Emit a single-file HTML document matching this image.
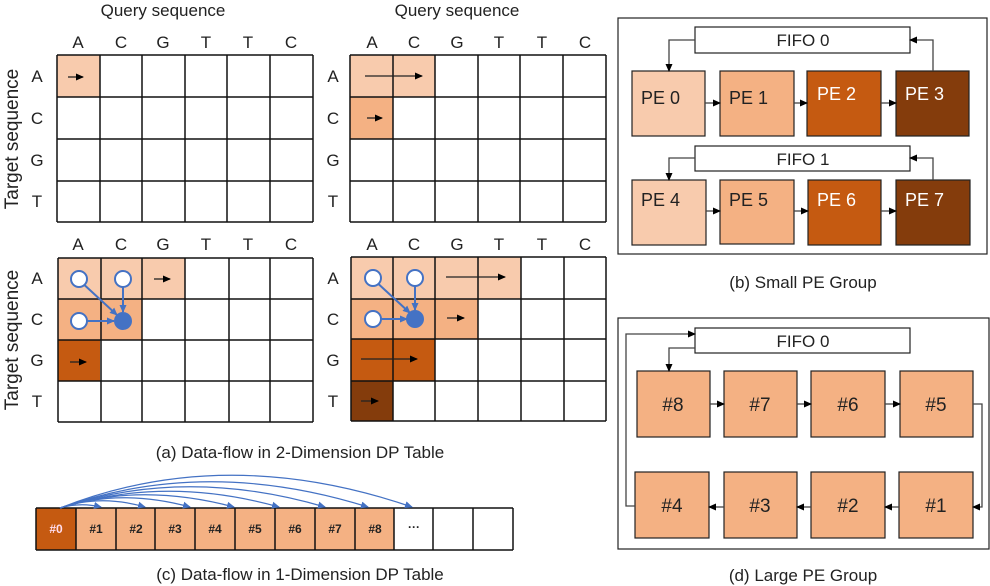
<!DOCTYPE html>
<html><head><meta charset="utf-8"><style>
html,body{margin:0;padding:0;background:#fff}
svg{display:block}
text{font-family:"Liberation Sans",sans-serif}
</style></head><body>
<svg width="990" height="586" viewBox="0 0 990 586" xmlns="http://www.w3.org/2000/svg">
<defs>
<marker id="ar" markerWidth="8" markerHeight="8" refX="7" refY="4" orient="auto" markerUnits="userSpaceOnUse"><path d="M0,0.5 L8,4 L0,7.5 z" fill="#000"/></marker>
<marker id="ab" markerWidth="8" markerHeight="8" refX="7" refY="4" orient="auto" markerUnits="userSpaceOnUse"><path d="M0,0.5 L8,4 L0,7.5 z" fill="#4472c4"/></marker>
<marker id="ag" markerWidth="8" markerHeight="8" refX="7" refY="4" orient="auto" markerUnits="userSpaceOnUse"><path d="M0,0.5 L8,4 L0,7.5 z" fill="#000"/></marker>
</defs>

<g font-size="17" fill="#222" text-anchor="middle">
<text x="163" y="16">Query sequence</text>
<text x="457" y="16">Query sequence</text>
</g>
<g font-size="17" fill="#222" text-anchor="middle">
<text x="78" y="48">A</text><text x="121" y="48">C</text><text x="163" y="48">G</text><text x="206" y="48">T</text><text x="248" y="48">T</text><text x="291" y="48">C</text>
<text x="372" y="48">A</text><text x="414" y="48">C</text><text x="457" y="48">G</text><text x="499" y="48">T</text><text x="542" y="48">T</text><text x="585" y="48">C</text>
<text x="78" y="250">A</text><text x="121" y="250">C</text><text x="163" y="250">G</text><text x="206" y="250">T</text><text x="248" y="250">T</text><text x="291" y="250">C</text>
<text x="372" y="250">A</text><text x="414" y="250">C</text><text x="457" y="250">G</text><text x="499" y="250">T</text><text x="542" y="250">T</text><text x="585" y="250">C</text>
</g>
<g font-size="17" fill="#222" text-anchor="middle">
<text x="37" y="82">A</text><text x="37" y="124">C</text><text x="37" y="166">G</text><text x="37" y="207">T</text>
<text x="333" y="82">A</text><text x="333" y="124">C</text><text x="333" y="166">G</text><text x="333" y="207">T</text>
<text x="37" y="284">A</text><text x="37" y="325">C</text><text x="37" y="366">G</text><text x="37" y="407">T</text>
<text x="333" y="284">A</text><text x="333" y="325">C</text><text x="333" y="366">G</text><text x="333" y="407">T</text>
</g>
<g font-size="19" fill="#222" text-anchor="middle">
<text transform="translate(18,139) rotate(-90)">Target sequence</text>
<text transform="translate(18,340) rotate(-90)">Target sequence</text>
</g>

<rect x="57" y="55" width="43" height="42" fill="#f8cbad"/>
<rect x="350" y="55" width="85" height="42" fill="#f8cbad"/>
<rect x="350" y="97" width="43" height="42" fill="#f4b183"/>
<rect x="58" y="258" width="127" height="41" fill="#f8cbad"/>
<rect x="58" y="299" width="84" height="41" fill="#f4b183"/>
<rect x="58" y="340" width="42" height="41" fill="#c55a11"/>
<rect x="351" y="257" width="170" height="42" fill="#f8cbad"/>
<rect x="351" y="299" width="127" height="40" fill="#f4b183"/>
<rect x="351" y="339" width="84" height="42" fill="#c55a11"/>
<rect x="351" y="381" width="42" height="40" fill="#843c0c"/>

<g stroke="#111" stroke-width="1.5" fill="none">
<path d="M57,55H313M57,97H313M57,139H313M57,181H313M57,222H313M57,55V222M100,55V222M142,55V222M185,55V222M227,55V222M270,55V222M313,55V222"/>
<path d="M350,55H606M350,97H606M350,139H606M350,181H606M350,222H606M350,55V222M393,55V222M435,55V222M478,55V222M520,55V222M563,55V222M606,55V222"/>
<path d="M58,258H313M58,299H313M58,340H313M58,381H313M58,422H313M58,258V422M101,258V422M142,258V422M185,258V422M229,258V422M270,258V422M313,258V422"/>
<path d="M351,257H606M351,299H606M351,339H606M351,381H606M351,421H606M351,257V421M393,257V421M435,257V421M478,257V421M521,257V421M564,257V421M606,257V421"/>
</g>

<g stroke="#222" stroke-width="1.3" marker-end="url(#ar)">
<line x1="68" y1="77" x2="83" y2="77"/>
<line x1="365" y1="76" x2="422" y2="76"/>
<line x1="367" y1="118" x2="382" y2="118"/>
<line x1="154" y1="279" x2="170" y2="279"/>
<line x1="70" y1="362" x2="86" y2="362"/>
<line x1="446" y1="277" x2="505" y2="277"/>
<line x1="447" y1="318" x2="464" y2="318"/>
<line x1="361" y1="359" x2="417" y2="359"/>
<line x1="361" y1="401" x2="378" y2="401"/>
</g>

<g stroke="#4472c4" stroke-width="2">
<line x1="79" y1="280" x2="117" y2="315" marker-end="url(#ab)"/>
<line x1="123" y1="280" x2="123" y2="312" marker-end="url(#ab)"/>
<line x1="79" y1="321" x2="114" y2="321" marker-end="url(#ab)"/>
<circle cx="79" cy="279" r="8" fill="#fff"/><circle cx="123" cy="279" r="8" fill="#fff"/><circle cx="79" cy="321" r="8" fill="#fff"/><circle cx="123" cy="321" r="8" fill="#4472c4"/>
<line x1="373" y1="279" x2="410" y2="313" marker-end="url(#ab)"/>
<line x1="415" y1="279" x2="415" y2="310" marker-end="url(#ab)"/>
<line x1="373" y1="319" x2="407" y2="319" marker-end="url(#ab)"/>
<circle cx="373" cy="278" r="8" fill="#fff"/><circle cx="415" cy="278" r="8" fill="#fff"/><circle cx="373" cy="319" r="8" fill="#fff"/><circle cx="415" cy="319" r="8" fill="#4472c4"/>
</g>

<text x="300" y="458" font-size="17" fill="#222" text-anchor="middle">(a) Data-flow in 2-Dimension DP Table</text>

<rect x="36" y="508" width="40" height="42" fill="#c55a11"/>
<rect x="76" y="508" width="318" height="42" fill="#f4b183"/>
<g stroke="#111" stroke-width="1.5" fill="none">
<path d="M36,508H513M36,550H513M36,508V550M76,508V550M116,508V550M155,508V550M195,508V550M235,508V550M275,508V550M315,508V550M355,508V550M394,508V550M433,508V550M473,508V550M513,508V550"/>
</g>
<g font-size="12" font-weight="bold" fill="#222" text-anchor="middle">
<text x="56" y="533" fill="#fde">#0</text><text x="96" y="533">#1</text><text x="136" y="533">#2</text><text x="175" y="533">#3</text><text x="215" y="533">#4</text><text x="255" y="533">#5</text><text x="295" y="533">#6</text><text x="335" y="533">#7</text><text x="375" y="533">#8</text><text x="414" y="531">···</text>
</g>
<g stroke="#4472c4" stroke-width="1.2" fill="none" marker-end="url(#ab)">
<path d="M60,508 Q80,502 101,507"/>
<path d="M60,508 Q100,494 145,507"/>
<path d="M60,508 Q120,488 190,507"/>
<path d="M60,508 Q140,482 234,507"/>
<path d="M60,508 Q165,475 279,507"/>
<path d="M60,508 Q185,466 325,507"/>
<path d="M60,508 Q205,456 368,507"/>
<path d="M60,508 Q225,443 412,507"/>
</g>
<text x="300" y="580" font-size="17" fill="#222" text-anchor="middle">(c) Data-flow in 1-Dimension DP Table</text>

<rect x="618" y="18" width="369" height="236" fill="none" stroke="#222" stroke-width="1.2"/>
<rect x="695" y="27" width="215" height="26" fill="#fff" stroke="#222" stroke-width="1.2"/>
<rect x="695" y="146" width="215" height="25" fill="#fff" stroke="#222" stroke-width="1.2"/>
<g font-size="17" fill="#222" text-anchor="middle"><text x="803" y="46">FIFO 0</text><text x="803" y="165">FIFO 1</text></g>
<g stroke="#222" stroke-width="1.2">
<rect x="632" y="71" width="73" height="65" fill="#f8cbad"/>
<rect x="720" y="71" width="74" height="65" fill="#f4b183"/>
<rect x="807" y="71" width="74" height="65" fill="#c55a11"/>
<rect x="896" y="71" width="73" height="65" fill="#843c0c"/>
<rect x="632" y="180" width="74" height="65" fill="#f8cbad"/>
<rect x="720" y="180" width="74" height="64" fill="#f4b183"/>
<rect x="808" y="180" width="73" height="65" fill="#c55a11"/>
<rect x="896" y="180" width="74" height="65" fill="#843c0c"/>
</g>
<g font-size="18">
<text x="641" y="104" fill="#222">PE 0</text><text x="729" y="104" fill="#222">PE 1</text><text x="817" y="100" fill="#fff">PE 2</text><text x="905" y="100" fill="#fff">PE 3</text>
<text x="641" y="206" fill="#222">PE 4</text><text x="729" y="206" fill="#222">PE 5</text><text x="817" y="206" fill="#fff">PE 6</text><text x="905" y="206" fill="#fff">PE 7</text>
</g>
<g stroke="#444" stroke-width="1.3" fill="none" marker-end="url(#ag)">
<path d="M695,40H669V71"/>
<path d="M933,71V40H910"/>
<path d="M695,158H669V180"/>
<path d="M933,180V158H910"/>
<path d="M705,103H720"/><path d="M794,103H807"/><path d="M881,103H896"/>
<path d="M706,211H720"/><path d="M794,211H808"/><path d="M881,211H896"/>
</g>
<text x="803" y="288" font-size="17" fill="#222" text-anchor="middle">(b) Small PE Group</text>

<rect x="618" y="318" width="371" height="231" fill="none" stroke="#222" stroke-width="1.2"/>
<rect x="695" y="328" width="215" height="25" fill="#fff" stroke="#222" stroke-width="1.2"/>
<text x="803" y="347" font-size="17" fill="#222" text-anchor="middle">FIFO 0</text>
<g stroke="#222" stroke-width="1.2" fill="#f4b183">
<rect x="637" y="371" width="73" height="66"/><rect x="724" y="371" width="73" height="66"/><rect x="811" y="371" width="74" height="66"/><rect x="900" y="371" width="73" height="66"/>
<rect x="635" y="472" width="74" height="66"/><rect x="724" y="472" width="73" height="66"/><rect x="811" y="472" width="74" height="66"/><rect x="899" y="472" width="74" height="66"/>
</g>
<g font-size="19" fill="#222" text-anchor="middle">
<text x="673" y="411">#8</text><text x="760" y="411">#7</text><text x="848" y="411">#6</text><text x="936" y="411">#5</text>
<text x="672" y="512">#4</text><text x="760" y="512">#3</text><text x="848" y="512">#2</text><text x="936" y="512">#1</text>
</g>
<g stroke="#444" stroke-width="1.3" fill="none" marker-end="url(#ag)">
<path d="M635,506H626V334H695"/>
<path d="M695,348H669V371"/>
<path d="M710,404H724"/><path d="M797,404H811"/><path d="M885,404H900"/>
<path d="M973,404H982V507H973"/>
<path d="M899,507H885"/><path d="M811,507H797"/><path d="M724,507H709"/>
</g>
<text x="803" y="581" font-size="17" fill="#222" text-anchor="middle">(d) Large PE Group</text>
</svg>
</body></html>
